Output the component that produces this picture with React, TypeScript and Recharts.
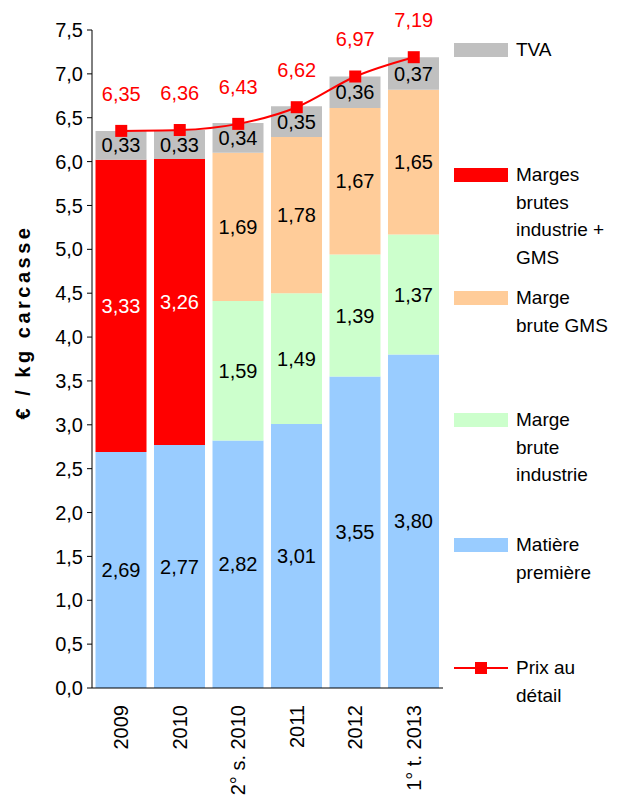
import { ComposedChart, Bar, Line, XAxis, YAxis, LabelList, Label } from "recharts";

const categories = ["2009", "2010", "2° s. 2010", "2011", "2012", "1° t. 2013"];
const matierePremiere = [2.69, 2.77, 2.82, 3.01, 3.55, 3.8];
const margeIndustrie = [null, null, 1.59, 1.49, 1.39, 1.37];
const margeGms = [null, null, 1.69, 1.78, 1.67, 1.65];
const margesIndustrieGms = [3.33, 3.26, null, null, null, null];
const tva = [0.33, 0.33, 0.34, 0.35, 0.36, 0.37];
const prixDetail = [6.35, 6.36, 6.43, 6.62, 6.97, 7.19];
const yTicks = [0, 0.5, 1, 1.5, 2, 2.5, 3, 3.5, 4, 4.5, 5, 5.5, 6, 6.5, 7, 7.5];

const FONT = "'Liberation Sans', Arial, sans-serif";
const RED = "#FF0000";

const data = categories.map((name, i) => ({
  name,
  matiere: matierePremiere[i],
  industrie: margeIndustrie[i],
  gms: margeGms[i],
  combined: margesIndustrieGms[i],
  tva: tva[i],
  prix: prixDetail[i],
}));

const fmt2 = (v: any) => (v == null ? "" : Number(v).toFixed(2).replace(".", ","));
const fmt1 = (v: number) => v.toFixed(1).replace(".", ",");

const legend = [
  { top: 42, color: "#C0C0C0", lines: ["TVA"] },
  { top: 167, color: RED, lines: ["Marges", "brutes", "industrie +", "GMS"] },
  { top: 290, color: "#FFCC99", lines: ["Marge", "brute GMS"] },
  { top: 412, color: "#CCFFCC", lines: ["Marge", "brute", "industrie"] },
  { top: 537, color: "#99CCFF", lines: ["Matière", "première"] },
  { top: 660, color: null, lines: ["Prix au", "détail"] },
];

const XTick = (props: any) => {
  const { x, y, payload } = props;
  return (
    <text
      x={x}
      y={y + 9}
      transform={`rotate(-90, ${x}, ${y + 9})`}
      textAnchor="end"
      dominantBaseline="central"
      fontSize={20}
      fontFamily={FONT}
      fill="#000"
    >
      {payload.value}
    </text>
  );
};

const Square = (props: any) => {
  const { cx, cy, index } = props;
  if (cx == null || cy == null) return null;
  return <rect key={`sq-${index}`} x={cx - 6} y={cy - 6} width={12} height={12} fill={RED} />;
};

export default function App() {
  const lh = 27.6;
  return (
    <div style={{ position: "relative", width: 610, height: 790, fontFamily: FONT }}>
      <ComposedChart
        width={610}
        height={790}
        data={data}
        margin={{ top: 22, right: 175, bottom: 0, left: 0 }}
        barCategoryGap="6%"
      >
        <XAxis
          dataKey="name"
          height={110}
          tick={<XTick />}
          tickLine={false}
          axisLine={{ stroke: "#000" }}
          interval={0}
        />
        <YAxis
          width={84}
          domain={[0, 7.5]}
          ticks={yTicks}
          tickFormatter={fmt1}
          tickSize={5}
          tickMargin={4}
          tickLine={{ stroke: "#000" }}
          axisLine={{ stroke: "#000" }}
          tick={{ fill: "#000", fontSize: 20, fontFamily: FONT }}
          interval={0}
        >
          <Label
            content={() => (
              <text
                x={15}
                y={314}
                transform="rotate(-90, 15, 314)"
                textAnchor="middle"
                dominantBaseline="central"
                fontSize={20}
                fontWeight="bold"
                letterSpacing={3.5}
                fontFamily={FONT}
                fill="#000"
              >
                € / kg carcasse
              </text>
            )}
          />
        </YAxis>
        <Bar dataKey="matiere" stackId="a" fill="#99CCFF" isAnimationActive={false}>
          <LabelList dataKey="matiere" position="center" formatter={fmt2} fill="#000" fontSize={20} fontFamily={FONT} />
        </Bar>
        <Bar dataKey="industrie" stackId="a" fill="#CCFFCC" isAnimationActive={false}>
          <LabelList dataKey="industrie" position="center" formatter={fmt2} fill="#000" fontSize={20} fontFamily={FONT} />
        </Bar>
        <Bar dataKey="gms" stackId="a" fill="#FFCC99" isAnimationActive={false}>
          <LabelList dataKey="gms" position="center" formatter={fmt2} fill="#000" fontSize={20} fontFamily={FONT} />
        </Bar>
        <Bar dataKey="combined" stackId="a" fill={RED} isAnimationActive={false}>
          <LabelList dataKey="combined" position="center" formatter={fmt2} fill="#FFFFFF" fontSize={20} fontFamily={FONT} />
        </Bar>
        <Bar dataKey="tva" stackId="a" fill="#C0C0C0" isAnimationActive={false}>
          <LabelList dataKey="tva" position="center" formatter={fmt2} fill="#000" fontSize={20} fontFamily={FONT} />
        </Bar>
        <Line
          dataKey="prix"
          type="monotone"
          stroke={RED}
          strokeWidth={2}
          dot={<Square />}
          activeDot={false}
          isAnimationActive={false}
        >
          <LabelList dataKey="prix" position="top" offset={30} formatter={fmt2} fill={RED} fontSize={20} fontFamily={FONT} />
        </Line>
      </ComposedChart>
      {legend.map((item) => (
        <div
          key={item.lines.join(" ")}
          style={{ position: "absolute", left: 446, top: item.top - lh / 2, fontSize: 19, lineHeight: `${lh}px` }}
        >
          {item.color ? (
            <div
              style={{ position: "absolute", left: 0, top: lh / 2 - 7, width: 54, height: 14, background: item.color }}
            />
          ) : (
            <svg style={{ position: "absolute", left: 0, top: lh / 2 - 7 }} width={54} height={14}>
              <line x1={0} y1={7} x2={54} y2={7} stroke={RED} strokeWidth={2} />
              <rect x={21} y={1} width={12} height={12} fill={RED} />
            </svg>
          )}
          <div style={{ marginLeft: 62, whiteSpace: "nowrap" }}>
            {item.lines.map((l) => (
              <div key={l}>{l}</div>
            ))}
          </div>
        </div>
      ))}
    </div>
  );
}
